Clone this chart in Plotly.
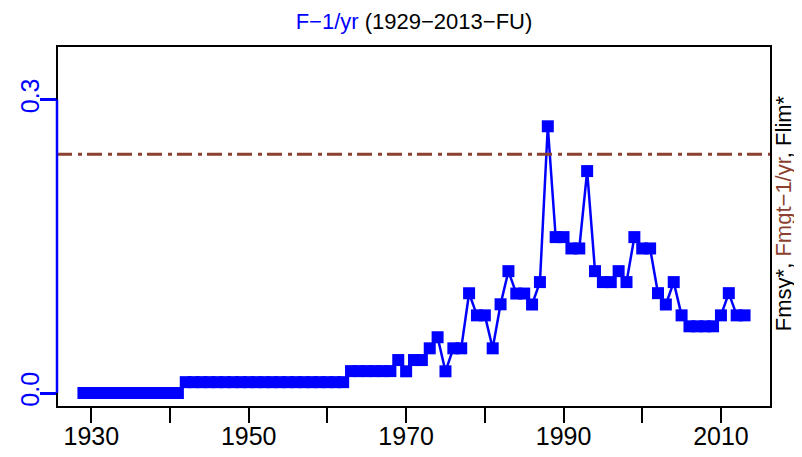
import plotly.graph_objects as go

years = list(range(1929, 2014))
f_values = (
    [0.0] * 13                      # 1929-1941
    + [0.0111] * 21                 # 1942-1962
    + [0.0224] * 6                  # 1963-1968
    + [0.0337, 0.0222, 0.0337, 0.0337, 0.0457, 0.057, 0.0222, 0.0457, 0.0457,  # 1969-1977
       0.102, 0.0794, 0.0794, 0.0457, 0.0907, 0.1246, 0.1017, 0.1017, 0.0905, 0.1134,  # 1978-1987
       0.2727, 0.1594, 0.1594, 0.1478, 0.1478, 0.2269, 0.1246, 0.1134, 0.1134, 0.1246,  # 1988-1997
       0.1134, 0.1594, 0.1478, 0.1478, 0.1021, 0.0905, 0.1134, 0.0794,  # 1998-2005
       0.0682, 0.0682, 0.0682, 0.0682, 0.0794, 0.1021, 0.0794, 0.0794]  # 2006-2013
)
f_ref = 0.2441
x_tickvals = [1930, 1940, 1950, 1960, 1970, 1980, 1990, 2000, 2010]
x_ticktext = ["1930", "", "1950", "", "1970", "", "1990", "", "2010"]
y_tickvals = [0.0, 0.3]
y_ticktext = ["0.0", "0.3"]

BLUE = "#0000FF"
BROWN = "#8B4030"
FONT = "Liberation Sans"

# page body adds an 8px offset; size the figure to fill the rest of the window
FIG_W, FIG_H = 794, 449

fig = go.Figure()
fig.add_trace(go.Scatter(
    x=years, y=f_values, mode="lines+markers",
    line=dict(color=BLUE, width=2.5),
    marker=dict(symbol="square", size=12, color=BLUE, line=dict(width=0)),
    hoverinfo="skip", showlegend=False,
))

fig.add_shape(type="line", xref="paper", x0=0, x1=1, yref="y", y0=f_ref, y1=f_ref,
              line=dict(color=BROWN, width=3, dash="15px,6px,4px,5px"))
fig.add_shape(type="rect", xref="paper", yref="paper", x0=0, x1=1, y0=0, y1=1,
              line=dict(color="black", width=2))
fig.add_shape(type="line", xref="paper", x0=0, x1=0, yref="y", y0=y_tickvals[0], y1=y_tickvals[-1],
              line=dict(color=BLUE, width=2.5))

fig.update_layout(
    width=FIG_W, height=FIG_H,
    margin=dict(l=49, r=31, t=38, b=50, autoexpand=False),
    paper_bgcolor="white", plot_bgcolor="white",
    font=dict(family=FONT, size=24, color="black"),
    title=dict(
        text=f"<span style='color:{BLUE}'>F−1/yr</span> (1929−2013−FU)",
        x=0.5, xref="paper", xanchor="center",
        y=1 - 13 / FIG_H, yref="container", yanchor="middle",
        font=dict(family=FONT, size=22, color="black"),
    ),
    xaxis=dict(
        range=[1925.64, 2016.36], showgrid=False, zeroline=False, showline=False,
        automargin=False,
        tickmode="array", tickvals=x_tickvals, ticktext=x_ticktext,
        ticks="outside", ticklen=15, tickwidth=2, tickcolor="black",
        ticklabelstandoff=-8,
        tickfont=dict(family=FONT, size=25, color="black"),
    ),
    yaxis=dict(
        range=[-0.0143, 0.3548], showgrid=False, zeroline=False, showline=False,
        automargin=False,
        tickmode="array", tickvals=y_tickvals, ticktext=y_ticktext,
        ticks="outside", ticklen=16, tickwidth=2.5, tickcolor=BLUE,
        ticklabelstandoff=-9,
        tickangle=-90, tickfont=dict(family=FONT, size=25, color=BLUE),
    ),
)

fig.add_annotation(
    text=f"Fmsy*, <span style='color:{BROWN}'>Fmgt−1/yr</span>, Flim*",
    xref="paper", yref="paper", x=1 + 12 / 714, y=0.537,
    xanchor="center", yanchor="middle", textangle=-90, showarrow=False,
    font=dict(family=FONT, size=22, color="black"),
)

fig.write_html("out.html")
